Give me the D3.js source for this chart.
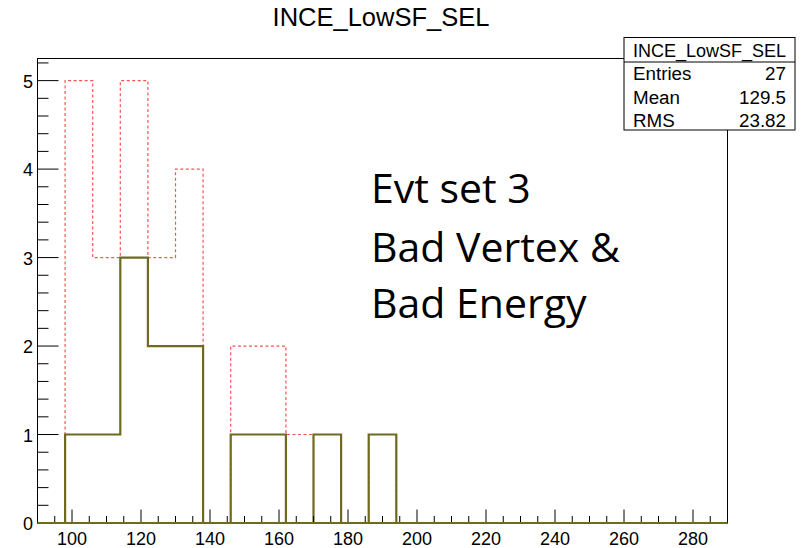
<!DOCTYPE html>
<html>
<head>
<meta charset="utf-8">
<script src="https://cdn.jsdelivr.net/npm/d3@7"></script>
<style>
  html, body { margin: 0; padding: 0; background: #fff; }
  svg { display: block; }
</style>
</head>
<body>
<svg id="chart" width="804" height="548"></svg>
<script>
// ---- data ----
const binEdgesStart = 90;
const binWidth = 8;
const nBins = 25;
const redCounts   = [0, 5, 3, 5, 3, 4, 0, 2, 2, 1, 1, 0, 1, 0, 0, 0, 0, 0, 0, 0, 0, 0, 0, 0, 0];
const oliveCounts = [0, 1, 1, 3, 2, 2, 0, 1, 1, 0, 1, 0, 1, 0, 0, 0, 0, 0, 0, 0, 0, 0, 0, 0, 0];
const xTickLabels = [100, 120, 140, 160, 180, 200, 220, 240, 260, 280];
const yTickLabels = [0, 1, 2, 3, 4, 5];
const title = "INCE_LowSF_SEL";
const statNames = ["Entries", "Mean", "RMS"];
const statValues = ["27", "129.5", "23.82"];
const noteLines = ["Evt set 3", "Bad Vertex &", "Bad Energy"];

// ---- layout ----
const svg = d3.select("#chart");
const L = 37.5, R = 727.5, T = 58.5, B = 523;
const x = d3.scaleLinear().domain([90, 290]).range([L, R]);
const y = d3.scaleLinear().domain([0, 5.25]).range([B, T]);
const labFont = "'Liberation Sans', Arial, sans-serif";

// title
svg.append("text").attr("x", 381).attr("y", 26)
  .attr("text-anchor", "middle")
  .style("font-family", labFont)
  .style("font-size", "25.5px").text(title);

// histogram step paths
function stepPath(counts) {
  const pts = [[x(binEdgesStart), y(0)]];
  counts.forEach((c, i) => {
    const x0 = x(binEdgesStart + i * binWidth), x1 = x(binEdgesStart + (i + 1) * binWidth);
    pts.push([x0, y(c)]); pts.push([x1, y(c)]);
  });
  pts.push([x(binEdgesStart + nBins * binWidth), y(0)]);
  return d3.line()(pts);
}
svg.append("path").attr("d", stepPath(redCounts))
  .attr("fill", "none").attr("stroke", "#f45555").attr("stroke-width", 1.2)
  .attr("stroke-dasharray", "3,2.5");
svg.append("path").attr("d", stepPath(oliveCounts))
  .attr("fill", "none").attr("stroke", "#6e6a1f").attr("stroke-width", 2.2);

// frame
svg.append("rect").attr("x", L).attr("y", T).attr("width", R - L).attr("height", B - T)
  .attr("fill", "none").attr("stroke", "#000").attr("stroke-width", 1);

// x ticks (drawn upward inside frame)
const xMinor = d3.range(95, 290, 5).filter(v => v % 20 !== 0);
const tickG = svg.append("g").attr("stroke", "#000").attr("stroke-width", 1);
xTickLabels.forEach(v => {
  tickG.append("line").attr("x1", x(v)).attr("x2", x(v)).attr("y1", B).attr("y2", B - 13.5);
});
xMinor.forEach(v => {
  tickG.append("line").attr("x1", x(v)).attr("x2", x(v)).attr("y1", B).attr("y2", B - 7);
});
// y ticks (drawn rightward inside frame)
const yMinor = d3.range(0, 5.25, 0.2).filter(v => Math.abs(v - Math.round(v)) > 1e-6);
yTickLabels.forEach(v => {
  tickG.append("line").attr("x1", L).attr("x2", L + 21).attr("y1", y(v)).attr("y2", y(v));
});
yMinor.forEach(v => {
  tickG.append("line").attr("x1", L).attr("x2", L + 11).attr("y1", y(v)).attr("y2", y(v));
});

// olive baseline over the tick bases
svg.append("line").attr("x1", L).attr("x2", R).attr("y1", B).attr("y2", B)
  .attr("stroke", "#6e6a1f").attr("stroke-width", 2.2);

// tick labels
svg.append("g").selectAll("text").data(xTickLabels).join("text")
  .attr("x", d => x(d)).attr("y", 545).attr("text-anchor", "middle")
  .style("font-family", labFont).style("font-size", "18px").text(d => d);
svg.append("g").selectAll("text").data(yTickLabels).join("text")
  .attr("x", 33).attr("y", d => y(d) + 7).attr("text-anchor", "end")
  .style("font-family", labFont).style("font-size", "18px").text(d => d);

// stats box
const bx0 = 624, bx1 = 795, by0 = 37.5, by1 = 130;
svg.append("rect").attr("x", bx0).attr("y", by0).attr("width", bx1 - bx0).attr("height", by1 - by0)
  .attr("fill", "#fff").attr("stroke", "#000").attr("stroke-width", 1);
svg.append("line").attr("x1", bx0).attr("x2", bx1).attr("y1", 62).attr("y2", 62)
  .attr("stroke", "#000").attr("stroke-width", 1);
svg.append("text").attr("x", (bx0 + bx1) / 2).attr("y", 56.5).attr("text-anchor", "middle")
  .style("font-family", labFont).style("font-size", "18px").text(title);
const rowY = [80, 103.5, 126.5];
statNames.forEach((n, i) => {
  svg.append("text").attr("x", 633).attr("y", rowY[i])
    .style("font-family", labFont).style("font-size", "18.8px").text(n);
  svg.append("text").attr("x", 786).attr("y", rowY[i]).attr("text-anchor", "end")
    .style("font-family", labFont).style("font-size", "18.8px").text(statValues[i]);
});

// annotation text
const noteY = [203, 262, 318];
noteLines.forEach((t, i) => {
  svg.append("text").attr("x", 371).attr("y", noteY[i])
    .style("font-family", "'Open Sans', 'Noto Sans', sans-serif")
    .style("font-size", "41px").text(t);
});
</script>
</body>
</html>
